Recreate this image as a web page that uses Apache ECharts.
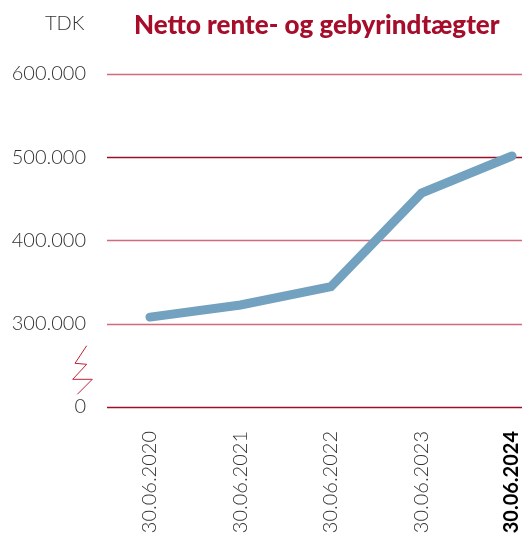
<!DOCTYPE html>
<html>
<head>
<meta charset="utf-8">
<script src="https://cdn.jsdelivr.net/npm/echarts@6/dist/echarts.min.js"></script>
<style>
  html, body { margin: 0; padding: 0; background: #fff; }
  #chart { width: 529px; height: 538px; }
</style>
</head>
<body>
<div id="chart"></div>
<script>
const categories = ["30.06.2020", "30.06.2021", "30.06.2022", "30.06.2023", "30.06.2024"];
const nettoValues = [308000, 322500, 344500, 457000, 501500];
// axis is broken between 0 and 300.000: the bottom line (200.000 slot) is shown as "0"
const tickLabels = { 200000: "0", 300000: "300.000", 400000: "400.000", 500000: "500.000", 600000: "600.000" };

const FONT = "Lato, 'Noto Sans', sans-serif";
const chart = echarts.init(document.getElementById("chart"));

chart.setOption({
    animation: false,
    title: {
        text: "Netto rente- og gebyrindtægter",
        left: 129,
        top: 8,
        textStyle: { fontFamily: FONT, fontSize: 26, fontWeight: 900, color: "#a50d2b" },
    },
    graphic: [
        {
            type: "text",
            left: 45,
            top: 14,
            style: { text: "TDK", font: "300 20px " + FONT, fill: "#333" },
        },
        {
            // axis break mark
            type: "polyline",
            shape: { points: [[86.7, 345.7], [75, 363.3], [86.7, 364.3], [72.7, 379.3], [92.3, 379.3], [77.3, 394.3]] },
            style: { stroke: "#c0203a", lineWidth: 1, fill: null },
        },
    ],
    grid: [
        { left: 107, right: 7, top: 74, bottom: 131 },
        { left: 150, right: 17, top: 74, bottom: 131 },
    ],
    xAxis: [
        { type: "value", gridIndex: 0, show: false },
        {
            type: "category",
            gridIndex: 1,
            data: categories,
            boundaryGap: false,
            axisLine: { show: false },
            axisTick: { show: false },
            axisLabel: {
                rotate: 90,
                margin: 24,
                fontFamily: FONT,
                fontSize: 20,
                fontWeight: 300,
                color: "#333",
                formatter: (v, i) => (i === categories.length - 1 ? "{b|" + v + "}" : v),
                rich: { b: { fontFamily: FONT, fontSize: 20, fontWeight: "bold", color: "#000" } },
            },
        },
    ],
    yAxis: [
        {
            type: "value",
            gridIndex: 0,
            min: 200000,
            max: 600000,
            interval: 100000,
            axisLine: { show: false },
            axisTick: { show: false },
            axisLabel: {
                margin: 21,
                fontFamily: FONT,
                fontSize: 20,
                fontWeight: 300,
                color: "#333",
                formatter: (v) => tickLabels[v] || "",
            },
            splitLine: {
                lineStyle: {
                    color: ["#9b1028", "#d06a7c", "#d06a7c", "#961027", "#d06a7c"],
                    width: 1.3,
                },
            },
        },
        { type: "value", gridIndex: 1, min: 200000, max: 600000, show: false },
    ],
    series: [
        {
            name: "Netto rente- og gebyrindtægter",
            type: "line",
            xAxisIndex: 1,
            yAxisIndex: 1,
            data: nettoValues,
            showSymbol: false,
            lineStyle: { color: "#72a2bf", width: 9, cap: "round", join: "miter" },
        },
    ],
});
</script>
</body>
</html>
